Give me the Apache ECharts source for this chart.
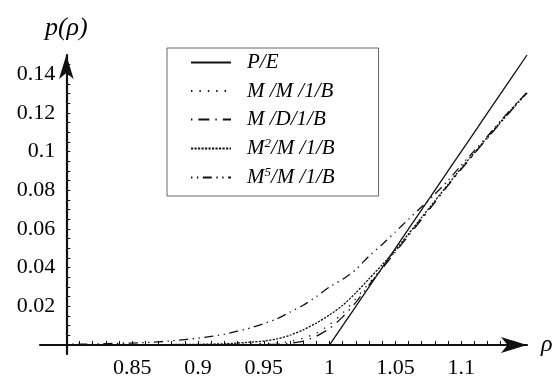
<!DOCTYPE html>
<html><head><meta charset="utf-8">
<script src="https://cdn.jsdelivr.net/npm/echarts@6/dist/echarts.min.js"></script>
<style>html,body{margin:0;padding:0;background:#fff}#c{width:556px;height:376px}</style>
</head><body><div id="c"></div>
<script>
// ---- data ----
const rho   = [0.80, 0.82, 0.84, 0.86, 0.88, 0.90, 0.92, 0.94, 0.95, 0.96, 0.97, 0.98, 0.99, 1.00, 1.01, 1.02, 1.03, 1.04, 1.05, 1.06, 1.07, 1.08, 1.09, 1.10, 1.11, 1.12, 1.13, 1.14, 1.15];
const pPE   = [0, 0, 0, 0, 0, 0, 0, 0, 0, 0, 0, 0, 0, 0, 0.01, 0.02, 0.03, 0.04, 0.05, 0.06, 0.07, 0.08, 0.09, 0.10, 0.11, 0.12, 0.13, 0.14, 0.15];
const pMM1  = [0, 0, 0, 0, 0, 0.0001, 0.0002, 0.0004, 0.0007, 0.0011, 0.0017, 0.0035, 0.006, 0.0105, 0.0165, 0.024, 0.032, 0.040, 0.0485, 0.057, 0.0655, 0.074, 0.0828, 0.091, 0.099, 0.107, 0.115, 0.1228, 0.1304];
const pMD1  = [0, 0, 0, 0, 0, 0, 0, 0.0001, 0.0002, 0.0003, 0.0008, 0.002, 0.0045, 0.0085, 0.0145, 0.022, 0.031, 0.0395, 0.048, 0.0565, 0.065, 0.0738, 0.0825, 0.0908, 0.099, 0.107, 0.115, 0.1228, 0.1304];
const pM2   = [0, 0, 0, 0.0001, 0.0002, 0.0003, 0.0006, 0.0014, 0.002, 0.0031, 0.005, 0.0078, 0.0113, 0.0155, 0.0205, 0.027, 0.0342, 0.0415, 0.049, 0.0575, 0.066, 0.0745, 0.083, 0.0915, 0.0995, 0.1075, 0.1155, 0.1232, 0.1306];
const pM5   = [0.0003, 0.0005, 0.0008, 0.0012, 0.0021, 0.0035, 0.0055, 0.0088, 0.011, 0.0135, 0.017, 0.0205, 0.025, 0.030, 0.034, 0.039, 0.046, 0.052, 0.0585, 0.065, 0.0715, 0.078, 0.085, 0.093, 0.1005, 0.108, 0.116, 0.1235, 0.1306];
const seriesNames = ['P/E', 'M/M/1/B', 'M/D/1/B', 'M2/M/1/B', 'M5/M/1/B'];
const legendRich = {
  'P/E': '{i|P/E}',
  'M/M/1/B': '{i|M /M /1/B}',
  'M/D/1/B': '{i|M /D/1/B}',
  'M2/M/1/B': '{i|M}{s|2}{i|/M /1/B}',
  'M5/M/1/B': '{i|M}{s|5}{i|/M /1/B}'
};
const xTickLabels = [0.85, 0.9, 0.95, 1, 1.05, 1.1];
const xMinorTicks = [0.8, 0.81, 0.82, 0.83, 0.84, 0.85, 0.86, 0.87, 0.88, 0.89, 0.9, 0.91, 0.92, 0.93, 0.94, 0.95, 0.96, 0.97, 0.98, 0.99, 1, 1.01, 1.02, 1.03, 1.04, 1.05, 1.06, 1.07, 1.08, 1.09, 1.1, 1.11, 1.12, 1.13, 1.14];
const yTickLabels = [0.02, 0.04, 0.06, 0.08, 0.1, 0.12, 0.14];
const yMinorTicks = [0.005, 0.01, 0.015, 0.02, 0.025, 0.03, 0.035, 0.04, 0.045, 0.05, 0.055, 0.06, 0.065, 0.07, 0.075, 0.08, 0.085, 0.09, 0.095, 0.1, 0.105, 0.11, 0.115, 0.12, 0.125, 0.13, 0.135, 0.14, 0.145];
const xRange = [0.78, 1.15];
const yRange = [-0.0047, 0.15];
const yAxisAt = 0.8;

// ---- styles ----
const FONT = 'Liberation Serif';
const dashes = [
  'solid',
  [1.4, 7],
  [1.4, 6, 11, 6],
  [2.2, 1.3],
  [1.4, 4.5, 1.4, 4.5, 9, 4.5]
];
const allValues = [pPE, pMM1, pMD1, pM2, pM5];

const chart = echarts.init(document.getElementById('c'), null, {renderer: 'canvas'});
const gridLeft = 40, gridRight = 29;
const plotW = 556 - gridLeft - gridRight;
const yOffset = -(yAxisAt - xRange[0]) / (xRange[1] - xRange[0]) * plotW;

chart.setOption({
  animation: false,
  backgroundColor: '#fff',
  textStyle: {fontFamily: FONT, color: '#000'},
  grid: {left: gridLeft, right: gridRight, top: 55, bottom: 22, containLabel: false, outerBoundsMode: 'none'},
  xAxis: {
    type: 'value', min: xRange[0], max: xRange[1],
    name: 'ρ', nameLocation: 'end', nameGap: 14,
    nameTextStyle: {fontFamily: FONT, fontStyle: 'italic', fontSize: 24, color: '#000', verticalAlign: 'middle'},
    axisLine: {onZero: true, lineStyle: {color: '#111', width: 2.2}, symbol: ['none', 'arrow'], symbolSize: [12, 26]},
    axisTick: {show: true, inside: true, length: 4, customValues: xMinorTicks, lineStyle: {color: '#111', width: 1}},
    axisLabel: {customValues: xTickLabels, fontFamily: FONT, fontSize: 22, color: '#000', margin: 3},
    splitLine: {show: false}
  },
  yAxis: {
    type: 'value', min: yRange[0], max: yRange[1], offset: yOffset,
    name: 'p(ρ)', nameLocation: 'end', nameGap: 14,
    nameTextStyle: {fontFamily: FONT, fontStyle: 'italic', fontSize: 26, color: '#000', align: 'center'},
    axisLine: {onZero: false, lineStyle: {color: '#111', width: 2.2}, symbol: ['none', 'arrow'], symbolSize: [11, 24]},
    axisTick: {show: true, inside: true, length: 4, customValues: yMinorTicks, lineStyle: {color: '#111', width: 1}},
    axisLabel: {customValues: yTickLabels, fontFamily: FONT, fontSize: 22, color: '#000', margin: 11},
    splitLine: {show: false}
  },
  legend: {
    orient: 'vertical', left: 167, top: 48,
    padding: [4, 44, 8, 23],
    itemWidth: 40, itemHeight: 14, itemGap: 7.5,
    borderColor: '#666', borderWidth: 1, backgroundColor: '#fff',
    itemStyle: {opacity: 0},
    data: seriesNames,
    formatter: n => legendRich[n],
    textStyle: {
      padding: [0, 0, 0, 11],
      rich: {
        i: {fontFamily: FONT, fontStyle: 'italic', fontSize: 21, lineHeight: 22, color: '#000'},
        s: {fontFamily: FONT, fontStyle: 'italic', fontSize: 13, lineHeight: 13, verticalAlign: 'top', color: '#000'}
      }
    }
  },
  series: seriesNames.map((n, k) => ({
    name: n, type: 'line', symbol: 'none', smooth: k === 0 ? false : 0.2,
    z: k === 0 ? 5 : 3,
    data: rho.map((x, i) => [x, allValues[k][i]]),
    lineStyle: {color: '#111', width: 1.3, type: dashes[k]},
    itemStyle: {color: '#111'}
  }))
});
</script></body></html>
